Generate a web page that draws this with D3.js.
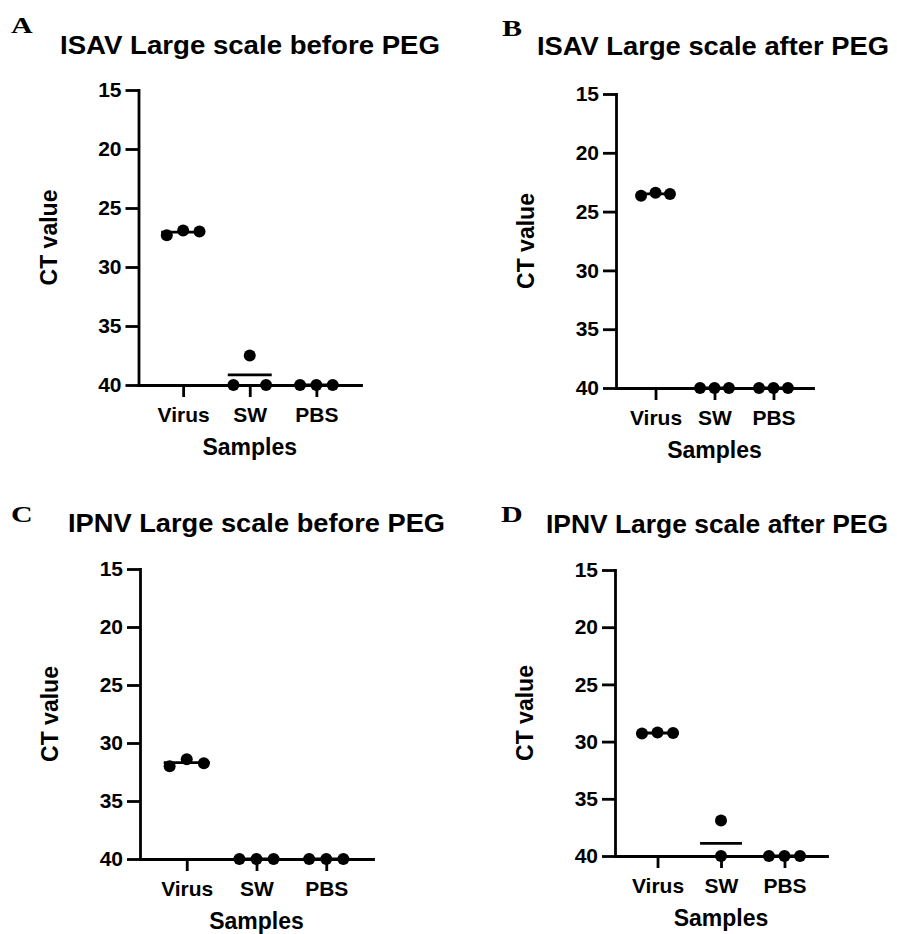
<!DOCTYPE html>
<html>
<head>
<meta charset="utf-8">
<script src="https://cdn.jsdelivr.net/npm/d3@7"></script>
<style>
  html, body { margin: 0; padding: 0; background: #fff; }
  svg { display: block; }
  text { font-family: "Liberation Sans", Arial, Helvetica, sans-serif; font-weight: bold; fill: #000; }
  .letter { font-family: "Liberation Serif", "Times New Roman", serif; font-weight: bold; }
</style>
</head>
<body>
<svg id="fig" width="897" height="934"></svg>
<script>
// Sample groups and y-axis ticks shared by all four panels
const categories = ["Virus", "SW", "PBS"];
const yTicks = [15, 20, 25, 30, 35, 40];
const panelLetters = ["A", "B", "C", "D"];
const panelTitles = [
  "ISAV Large scale before PEG",
  "ISAV Large scale after PEG",
  "IPNV Large scale before PEG",
  "IPNV Large scale after PEG"
];

// CT values of the replicates (40 = not detected)
const isavBeforeVirus = [27.3, 26.9, 27.0];
const isavBeforeSW    = [40, 37.5, 40];
const isavBeforePBS   = [40, 40, 40];
const isavBeforeMeans = [27.05, 39.15, 40];

const isavAfterVirus = [23.65, 23.4, 23.5];
const isavAfterSW    = [40, 40, 40];
const isavAfterPBS   = [40, 40, 40];
const isavAfterMeans = [23.5, 40, 40];

const ipnvBeforeVirus = [32.0, 31.4, 31.75];
const ipnvBeforeSW    = [40, 40, 40];
const ipnvBeforePBS   = [40, 40, 40];
const ipnvBeforeMeans = [31.7, 40, 40];

const ipnvAfterVirus = [29.3, 29.2, 29.25];
const ipnvAfterSW    = [36.9, 40];
const ipnvAfterPBS   = [40, 40, 40];
const ipnvAfterMeans = [29.25, 38.9, 40];

const panelSeries = [
  [isavBeforeVirus, isavBeforeSW, isavBeforePBS],
  [isavAfterVirus, isavAfterSW, isavAfterPBS],
  [ipnvBeforeVirus, ipnvBeforeSW, ipnvBeforePBS],
  [ipnvAfterVirus, ipnvAfterSW, ipnvAfterPBS]
];
const panelMeans = [isavBeforeMeans, isavAfterMeans, ipnvBeforeMeans, ipnvAfterMeans];

// Plot frame of each panel: y-axis x position, x-axis end, y extent,
// letter / title anchors and title width
const frames = [
  { x0: 138.5, x1: 361, y0: 90,  y1: 385, lx: 11,  ly: 33,  tx: 60,  ty: 54,  tw: 380 },
  { x0: 616,   x1: 813, y0: 94,  y1: 388, lx: 502, ly: 36,  tx: 537, ty: 55,  tw: 352 },
  { x0: 140,   x1: 373, y0: 569, y1: 859, lx: 11,  ly: 522, tx: 68,  ty: 532, tw: 377 },
  { x0: 615,   x1: 827, y0: 570, y1: 856, lx: 501, ly: 522, tx: 546, ty: 533, tw: 342 }
];

const svg = d3.select("#fig");
const LW = 2.8;      // axis / mean line width
const R = 6;         // dot radius

// Spread overlapping replicates horizontally (column scatter layout)
function slotOffsets(values, y) {
  const idx = values.map((v, i) => i).sort((a, b) => values[a] - values[b]);
  const clusters = [];
  idx.forEach(i => {
    const last = clusters[clusters.length - 1];
    if (last && Math.abs(y(values[i]) - y(values[last[last.length - 1]])) < 2 * R) last.push(i);
    else clusters.push([i]);
  });
  const slots = new Array(values.length).fill(0);
  clusters.forEach(c => {
    const members = c.slice().sort((a, b) => a - b);
    const k = members.length;
    let pattern;
    if (k === 1) pattern = [0];
    else if (k === 2) pattern = [-1, 1];
    else pattern = d3.range(k).map(j => j - (k - 1) / 2);
    members.forEach((m, j) => { slots[m] = pattern[j]; });
  });
  return slots;
}

frames.forEach((f, p) => {
  const g = svg.append("g");

  const x = d3.scalePoint().domain(categories).range([f.x0, f.x1]).padding(0.67);
  const y = d3.scaleLinear().domain([15, 40]).range([f.y0, f.y1]);
  const step = x.step();

  // Panel letter and title
  g.append("text").attr("class", "letter")
    .attr("transform", `translate(${f.lx},${f.ly}) scale(1.25,1)`)
    .attr("font-size", 24).text(panelLetters[p]);
  g.append("text").attr("x", f.tx).attr("y", f.ty)
    .attr("font-size", 26.5)
    .attr("textLength", f.tw).attr("lengthAdjust", "spacingAndGlyphs")
    .text(panelTitles[p]);

  // Y axis (reversed CT scale: 15 at top, 40 at bottom)
  const yAxis = g.append("g").attr("transform", `translate(${f.x0},0)`)
    .call(d3.axisLeft(y).tickValues(yTicks).tickSize(13).tickSizeOuter(0).tickPadding(4));
  // X axis
  const xAxis = g.append("g").attr("transform", `translate(0,${f.y1})`)
    .call(d3.axisBottom(x).tickSize(12).tickSizeOuter(0).tickPadding(10));

  [yAxis, xAxis].forEach(a => {
    a.select(".domain").attr("stroke", "#000").attr("stroke-width", LW).attr("stroke-linecap", "square");
    a.selectAll(".tick line").attr("stroke", "#000").attr("stroke-width", LW);
    a.selectAll(".tick text").attr("font-size", 21).attr("fill", "#000")
      .attr("font-family", "'Liberation Sans', Arial, sans-serif").attr("font-weight", "bold");
  });

  // Axis titles
  g.append("text")
    .attr("transform", `translate(${f.x0 - 82},${(f.y0 + f.y1) / 2}) rotate(-90)`)
    .attr("text-anchor", "middle").attr("font-size", 23).text("CT value");
  g.append("text")
    .attr("x", (f.x0 + f.x1) / 2).attr("y", f.y1 + 70)
    .attr("text-anchor", "middle").attr("font-size", 23).text("Samples");

  // Mean lines
  g.selectAll("line.mean").data(categories).join("line")
    .attr("class", "mean")
    .attr("x1", c => x(c) - 0.33 * step).attr("x2", c => x(c) + 0.33 * step)
    .attr("y1", (c, i) => y(panelMeans[p][i])).attr("y2", (c, i) => y(panelMeans[p][i]))
    .attr("stroke", "#000").attr("stroke-width", LW);

  // Replicate dots
  categories.forEach((c, ci) => {
    const vals = panelSeries[p][ci];
    const slots = slotOffsets(vals, y);
    g.selectAll(null).data(vals).join("circle")
      .attr("cx", (v, i) => x(c) + slots[i] * 0.245 * step)
      .attr("cy", v => y(v))
      .attr("r", R).attr("fill", "#000");
  });
});
</script>
</body>
</html>
